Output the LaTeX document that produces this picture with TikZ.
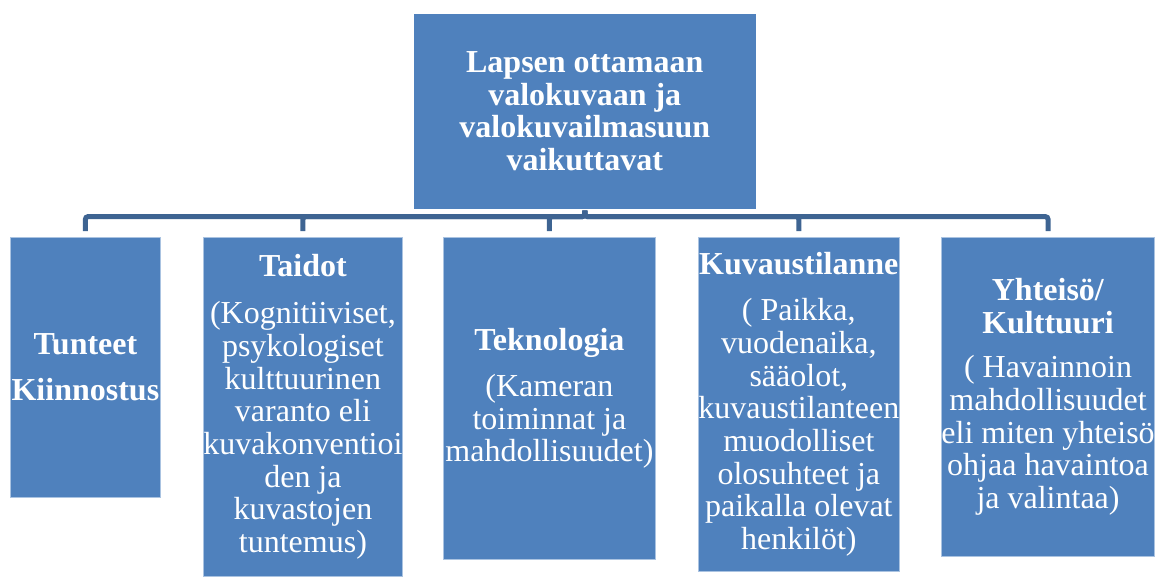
\documentclass[tikz,border=0pt]{standalone}
\usepackage{fontspec}
\setmainfont{Liberation Serif}
\usetikzlibrary{positioning}

\definecolor{boxBlue}{RGB}{79,129,189}
\definecolor{lineBlue}{RGB}{62,100,146}
\definecolor{edgeBlue}{RGB}{170,195,225}

\begin{document}
\begin{tikzpicture}[
        x=0.75pt, y=-0.75pt,
        % styles
        baseBlock/.style={rectangle, anchor=north west, fill=boxBlue, inner sep=0pt, align=center, text=white, font=\fontsize{24}{24.5}\selectfont},
        styleTop/.style={baseBlock, draw=white, line width=1.2pt},
        styleItem/.style={baseBlock, draw=edgeBlue, line width=0.6pt},
        conn/.style={draw=lineBlue, line width=3.75pt, rounded corners=2pt, shorten >=4.5pt}
    ]
    \useasboundingbox (0,0) rectangle (1157,576);

    % nodes

    % top box
    \node [styleTop, minimum width=258pt, minimum height=147.75pt] (top) at (412,12)
        {\textbf{Lapsen ottamaan}\\\textbf{valokuvaan ja}\\\textbf{valokuvailmasuun}\\\textbf{vaikuttavat}};

    % lower row
    \node [styleItem, minimum width=112.5pt, minimum height=195pt] (feel) at (10,237)
        {\textbf{Tunteet}\\[10pt]\textbf{Kiinnostus}};
    \node [styleItem, minimum width=147.75pt, minimum height=254.25pt] (skill) at (203,237)
        {\textbf{Taidot}\\[11pt](Kognitiiviset,\\psykologiset\\kulttuurinen\\varanto eli\\kuvakonventioi\\den ja\\kuvastojen\\tuntemus)};
    \node [styleItem, minimum width=159pt, minimum height=241.5pt] (tech) at (443,237)
        {\textbf{Teknologia}\\[10pt](Kameran\\toiminnat ja\\mahdollisuudet)};
    \node [styleItem, minimum width=150pt, minimum height=250.5pt] (situ) at (698,237)
        {\textbf{Kuvaustilanne}\\[10pt]( Paikka,\\vuodenaika,\\sääolot,\\kuvaustilanteen\\muodolliset\\olosuhteet ja\\paikalla olevat\\henkilöt)};
    \node [styleItem, minimum width=159pt, minimum height=239.25pt] (comm) at (941,237)
        {\textbf{Yhteisö/}\\\textbf{Kulttuuri}\\[9pt]( Havainnoin\\mahdollisuudet\\eli miten yhteisö\\ohjaa havaintoa\\ja valintaa)};

    % connections
    \foreach \n in {feel, skill, tech, situ, comm}
        \draw [conn] (top.south) -- ++(0,6) -| (\n.north);

\end{tikzpicture}
\end{document}
